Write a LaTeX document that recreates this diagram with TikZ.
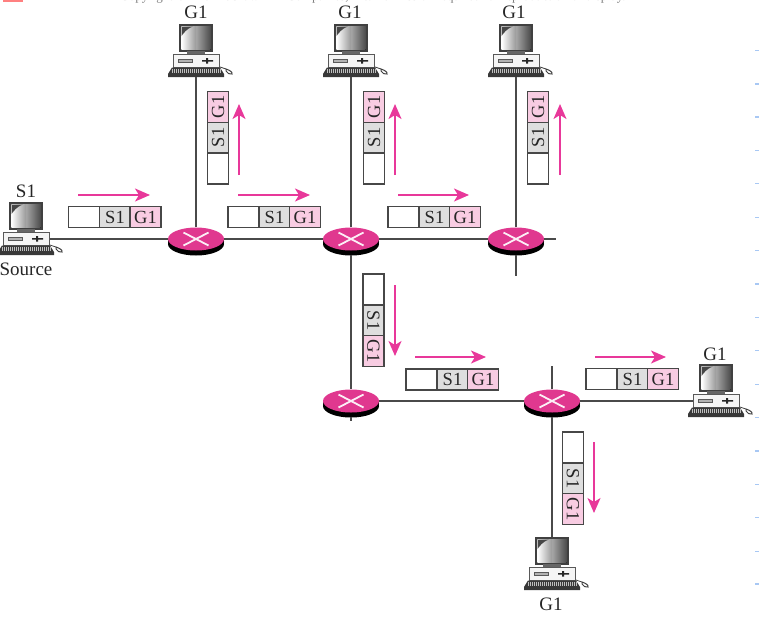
\documentclass[tikz,border=0pt]{standalone}
\usepackage{fontspec}
\setmainfont{Liberation Serif}
\usetikzlibrary{arrows.meta,shapes.geometric,shadows}
\definecolor{rpink}{HTML}{E0388F}
\definecolor{apink}{HTML}{E8389A}
\definecolor{cpink}{HTML}{F8CCE2}
\definecolor{cgrey}{HTML}{DEDEDE}
\definecolor{wire}{HTML}{4A4A4A}
\definecolor{tick}{HTML}{A8C8F4}
\tikzset{
  wirel/.style={draw=wire,line width=1.9pt},
  flow/.style={draw=apink,line width=1.7pt,-{Stealth[length=15pt,width=13pt,inset=4pt]}},
  lab/.style={font=\fontsize{19}{19}\selectfont,text=black!85,inner sep=0pt},
  cell/.style={draw=black!72,line width=1.5pt,minimum width=31pt,minimum height=21pt,inner sep=0pt,transform shape,
     font=\fontsize{18.5}{19}\selectfont,text=black!85},
  router/.style={ellipse,fill=rpink,minimum width=56pt,minimum height=23pt,inner sep=0pt,
     general shadow={fill=black,shadow xshift=0pt,shadow yshift=-2.5pt},
     general shadow={fill=black,shadow xshift=0pt,shadow yshift=-5pt},
     path picture={\draw[white!92!rpink,line width=1.8pt] ([shift={(-12.5pt,-6.5pt)}]path picture bounding box.center) -- ([shift={(12.5pt,6.5pt)}]path picture bounding box.center)
        ([shift={(-12.5pt,6.5pt)}]path picture bounding box.center) -- ([shift={(12.5pt,-6.5pt)}]path picture bounding box.center);}},
  packet/.pic={
    \node[cell,fill=white] (-a) at (15.5,0) {};
    \node[cell,fill=cgrey] (-b) at (46.5,0) {S1};
    \node[cell,fill=cpink] (-c) at (77,0) {G1};
  },
  computer/.pic={
    \node[draw=black!75,line width=1.2pt,minimum width=32pt,minimum height=26pt,inner sep=0pt,fill=black!70] (-m) at (0,-39) {};
    \fill[left color=white,right color=black!70] (-14.5,-50.5) rectangle (14.5,-27.5);
    \fill[left color=white,right color=white!60!black] (-14.5,-50.5) rectangle (0,-27.5);
    \fill[black!72] (-14.5,-50.5) -- (-3,-50.5) .. controls (-10,-48) and (-12,-44) .. (-14.5,-41) -- cycle;
    \fill[black!60] (-9,-26) rectangle (9,-23);
    \node[draw=black!65,line width=1pt,fill=black!4,minimum width=46pt,minimum height=13pt,inner sep=0pt] (-c) at (0,-16) {};
    \draw[black!65,fill=black!30] (-18,-18) rectangle (-4,-15);
    \fill[black!85] (6,-17) rectangle (17,-15.5) (10,-19) rectangle (12,-13.5);
    \fill[black!78] (-24,-9.5) -- (24,-9.5) -- (28,-3) -- (28,0) -- (-28,0) -- (-28,-3) -- cycle;
    \node[minimum width=56pt,minimum height=9pt,inner sep=0pt] (-k) at (0,-4.5) {};
    \foreach \kx in {-24,-22,...,24} \draw[white!75!black,line width=.45pt] (\kx,-8.5) -- (\kx,-4);
    \draw[black!75,line width=1pt,fill=white] (30,-8) .. controls (33,-7) and (37,-5) .. (36,-3) .. controls (34,-2) and (31,-4) .. (30,-6) -- cycle;
    \draw[black!75,line width=.8pt] (24,-10) -- (30,-8);
  }
}
\begin{document}
\begin{tikzpicture}[x=1pt,y=-1pt]
\useasboundingbox (0,0) rectangle (759,619);
% header strip, cut off at the top edge as in the reference
\begin{scope}
  \clip (0,0) rectangle (759,3.2);
  \fill[red!50] (3,0) rectangle (23,2);
  \node[anchor=base west,inner sep=0pt,font=\fontsize{13}{14}\selectfont,text=black!50] (hdr) at (120,0.5)
    {Copyright © The McGraw-Hill Companies, Inc. Permission required for reproduction or display.};
\end{scope}
% margin ticks
\foreach \ty in {50.6,84,117,150.4,183.8,217.2,250.6,284,317.4,350.8,384.2,417.6,451,484.4,517.8,551.2,584}
  \draw[tick,line width=1.2pt] (755,\ty) -- (759,\ty);
% computers
\pic (cs) at (26,255) {computer};
\pic (c1) at (196,77) {computer};
\pic (c2) at (351,77) {computer};
\pic (c3) at (516,77) {computer};
\pic (c4) at (716,417) {computer};
\pic (c5) at (552,590) {computer};
% routers
\node[router] (r1) at (196,239) {};
\node[router] (r2) at (351,239) {};
\node[router] (r3) at (516,239) {};
\node[router] (r4) at (351,401) {};
\node[router] (r5) at (552,401) {};
\coordinate (r3e) at (556,239);
\coordinate (r3s) at (516,276);
\coordinate (r4s) at (351,421);
\coordinate (r5n) at (552,366);
% links
\draw[wirel] (cs-c.east) -- (r1.west);
\draw[wirel] (r1.east) -- (r2.west);
\draw[wirel] (r2.east) -- (r3.west);
\draw[wirel] (r3.east) -- (r3e);
\draw[wirel] (r1.north) -- (c1-k.south);
\draw[wirel] (r2.north) -- (c2-k.south);
\draw[wirel] (r3.north) -- (c3-k.south);
\draw[wirel] (r3.south) ++(0,-4pt) -- (r3s);
\draw[wirel] (r2.south) ++(0,-4pt) -- (r4.north);
\draw[wirel] (r4.south) ++(0,-4pt) -- (r4s);
\draw[wirel] (r4.east) -- (r5.west);
\draw[wirel] (r5.east) -- (c4-c.west);
\draw[wirel] (r5.north) -- (r5n);
\draw[wirel] (r5.south) ++(0,-4pt) -- (c5-m.north);
% packets
\pic (p1) at (68.5,217) {packet};
\pic (p2) at (228,217) {packet};
\pic (p3) at (388,217) {packet};
\pic (p4) at (406,379.5) {packet};
\pic (p5) at (586,379) {packet};
\pic[rotate=90] (p6) at (218,184) {packet};
\pic[rotate=90] (p7) at (374,184) {packet};
\pic[rotate=90] (p8) at (538,184) {packet};
\pic[rotate=-90] (p9) at (373.5,274) {packet};
\pic[rotate=-90] (p10) at (573,432) {packet};
% flow arrows
\coordinate (a1s) at (78,195);  \coordinate (a1e) at (150,195);
\coordinate (a2s) at (238,195); \coordinate (a2e) at (310,195);
\coordinate (a3s) at (398,195); \coordinate (a3e) at (469,195);
\coordinate (a4s) at (415,357); \coordinate (a4e) at (486,357);
\coordinate (a5s) at (595,357); \coordinate (a5e) at (666,357);
\coordinate (a6s) at (239,175); \coordinate (a6e) at (239,104);
\coordinate (a7s) at (395,175); \coordinate (a7e) at (395,104);
\coordinate (a8s) at (560,175); \coordinate (a8e) at (560,104);
\coordinate (a9s) at (395,285); \coordinate (a9e) at (395,356);
\coordinate (a10s) at (594,442); \coordinate (a10e) at (594,513);
\foreach \ai in {1,...,10} \draw[flow] (a\ai s) -- (a\ai e);
% labels
\node[lab] (ls) at (26,191) {S1};
\node[lab] (lsrc) at (26,269) {Source};
\node[lab] (l1) at (196,12) {G1};
\node[lab] (l2) at (350,12) {G1};
\node[lab] (l3) at (514,12) {G1};
\node[lab] (l4) at (715,354) {G1};
\node[lab] (l5) at (551,604) {G1};
\end{tikzpicture}
\end{document}
